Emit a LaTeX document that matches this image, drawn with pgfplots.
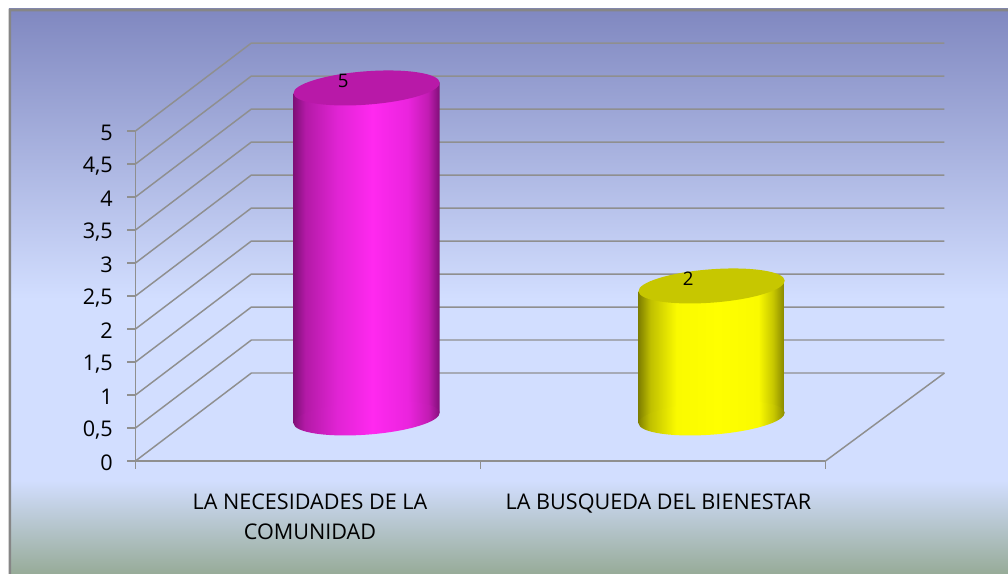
\documentclass[border=0pt]{standalone}
\usepackage{fontspec}
\setmainfont{Open Sans}
\usepackage{pgfplots}
\pgfplotsset{compat=1.18}
\usetikzlibrary{shapes.geometric}
\definecolor{gridc}{HTML}{8F8F8F}
\definecolor{framec}{HTML}{868686}
\pgfdeclareverticalshading{bgf}{100bp}{
 rgb(0bp)=(0.592,0.671,0.596);
 rgb(25bp)=(0.592,0.671,0.596);
 rgb(33.3bp)=(0.824,0.871,1);
 rgb(49.3bp)=(0.824,0.871,1);
 rgb(75bp)=(0.502,0.533,0.753);
 rgb(100bp)=(0.502,0.533,0.753)}
\pgfdeclarehorizontalshading{cylM}{100bp}{
 rgb(0bp)=(0.50,0.06,0.47);
 rgb(25bp)=(0.50,0.06,0.47);
 rgb(29bp)=(0.70,0.10,0.65);
 rgb(40bp)=(0.88,0.14,0.83);
 rgb(52bp)=(1,0.16,0.94);
 rgb(64bp)=(0.92,0.14,0.87);
 rgb(71bp)=(0.76,0.11,0.70);
 rgb(75bp)=(0.50,0.06,0.47);
 rgb(100bp)=(0.50,0.06,0.47)}
\pgfdeclarehorizontalshading{cylY}{100bp}{
 rgb(0bp)=(0.50,0.50,0);
 rgb(25bp)=(0.50,0.50,0);
 rgb(29bp)=(0.75,0.75,0);
 rgb(38bp)=(0.98,0.98,0);
 rgb(52bp)=(1,1,0);
 rgb(66bp)=(0.98,0.98,0);
 rgb(71bp)=(0.78,0.78,0);
 rgb(75bp)=(0.52,0.52,0);
 rgb(100bp)=(0.52,0.52,0)}
\begin{document}
\begin{tikzpicture}[x=1pt,y=1pt]
\clip (0,0) rectangle (756,430.5);
\fill[white] (0,0) rectangle (756,430.5);
\shade[shading=bgf] (6.75,0) rectangle (756,423.75);
\fill[framec] (6.4,0) rectangle (8.4,424) (6.4,422) rectangle (756,424);
\begin{axis}[
  at={(101.6pt,84.75pt)}, anchor=south west,
  scale only axis, width=517.5pt, height=247.5pt,
  xmin=0, xmax=2, ymin=0, ymax=5, clip=false,
  axis x line*=bottom, axis y line*=left,
  axis line style={gridc,line width=1.3pt,-},
  tick style={gridc,line width=1.3pt},
  tick align=outside, major tick length=6pt,
  xtick={0,1,2}, xticklabels={},
  extra x ticks={0.5,1.51},
  extra x tick labels={{LA NECESIDADES DE LA\\COMUNIDAD},{LA BUSQUEDA DEL BIENESTAR}},
  extra x tick style={major tick length=0pt, tick style={draw=none},
    xticklabel style={align=center, yshift=-21pt, xshift=1.5pt}},
  ytick={0,0.5,1,1.5,2,2.5,3,3.5,4,4.5,5},
  yticklabel style={/pgf/number format/use comma, /pgf/number format/assume math mode=true, xshift=-7.5pt, yshift=-1.5pt},
  ticklabel style={font=\fontsize{16.2}{22.5}\selectfont},
]
\addplot[gridc,line width=1.1pt] coordinates {(0,0) (0.336,1.333) (2.345,1.333)};
\addplot[gridc,line width=1.1pt] coordinates {(0,0.5) (0.336,1.833) (2.345,1.833)};
\addplot[gridc,line width=1.1pt] coordinates {(0,1) (0.336,2.333) (2.345,2.333)};
\addplot[gridc,line width=1.1pt] coordinates {(0,1.5) (0.336,2.833) (2.345,2.833)};
\addplot[gridc,line width=1.1pt] coordinates {(0,2) (0.336,3.333) (2.345,3.333)};
\addplot[gridc,line width=1.1pt] coordinates {(0,2.5) (0.336,3.833) (2.345,3.833)};
\addplot[gridc,line width=1.1pt] coordinates {(0,3) (0.336,4.333) (2.345,4.333)};
\addplot[gridc,line width=1.1pt] coordinates {(0,3.5) (0.336,4.833) (2.345,4.833)};
\addplot[gridc,line width=1.1pt] coordinates {(0,4) (0.336,5.333) (2.345,5.333)};
\addplot[gridc,line width=1.1pt] coordinates {(0,4.5) (0.336,5.833) (2.345,5.833)};
\addplot[gridc,line width=1.1pt] coordinates {(0,5) (0.336,6.333) (2.345,6.333)};
\addplot[gridc,line width=1.1pt] coordinates {(2,0) (2.345,1.333)};
\end{axis}
\begin{axis}[
  at={(101.6pt,84.75pt)}, anchor=south west,
  scale only axis, width=517.5pt, height=247.5pt,
  xmin=0, xmax=2, ymin=-0.652, ymax=4.348, clip=false,
  hide axis,
  ell/.style={only marks, mark=none, nodes near coords={},
    nodes near coords align={anchor=center},
    every node near coord/.style={ellipse, inner sep=0pt, outer sep=0pt, anchor=center,
      minimum width=110pt, minimum height=25pt, rotate=4.3, #1}},
  cyl/.style={ybar, bar width=109.5pt, bar shift=0pt, draw=none, shade, shading=#1, yslant=0.075},
]
% bottoms of the cylinders
\addplot[ell={shade,shading=cylM}] coordinates {(0.67,0)};
\addplot[ell={shade,shading=cylY}] coordinates {(1.67,0)};
% bodies
\addplot[cyl=cylM, yshift=-13pt] coordinates {(0.67,5)};
\addplot[cyl=cylY, yshift=-32.4pt] coordinates {(1.67,2)};
% tops
\addplot[ell={fill={rgb,1:red,0.72;green,0.10;blue,0.66}}] coordinates {(0.67,5)};
\addplot[ell={fill={rgb,1:red,0.78;green,0.78;blue,0}}] coordinates {(1.67,2)};
% value labels
\addplot[only marks, mark=none, nodes near coords,
  nodes near coords align={anchor=center},
  every node near coord/.style={anchor=center, black, xshift=-17.5pt, yshift=5.5pt, font=\fontsize{14}{15}\selectfont, /pgf/number format/assume math mode=true}]
  coordinates {(0.67,5) (1.67,2)};
\end{axis}
\end{tikzpicture}
\end{document}
